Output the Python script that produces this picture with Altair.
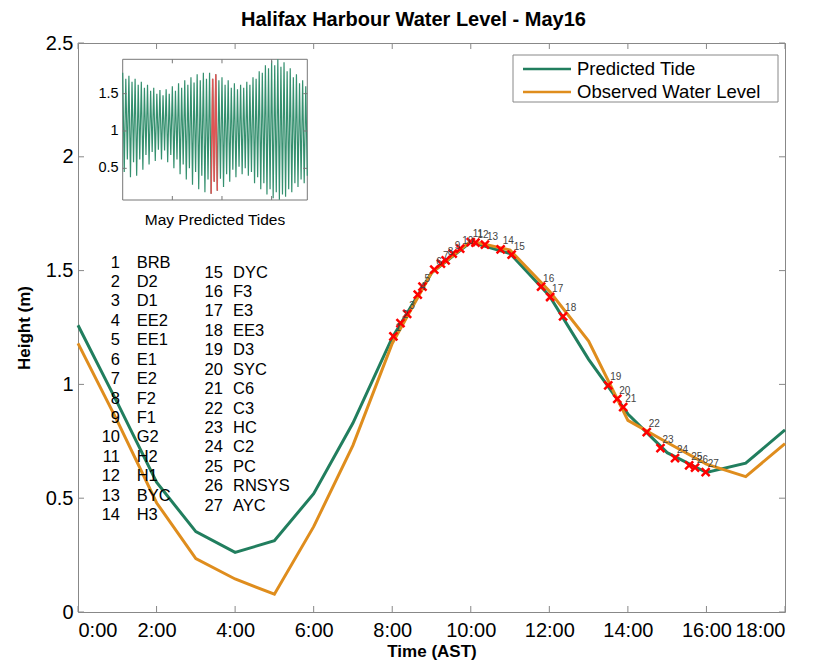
import altair as alt
import pandas as pd

FONT = "Liberation Sans"

# ---------------- data ----------------
hours = list(range(19))
predicted = [1.26, 0.92, 0.57, 0.353, 0.262, 0.313, 0.52, 0.83, 1.205, 1.49,
             1.625, 1.575, 1.39, 1.11, 0.87, 0.70, 0.613, 0.654, 0.80]
observed = [1.18, 0.84, 0.48, 0.235, 0.145, 0.078, 0.375, 0.732, 1.18, 1.49,
            1.63, 1.59, 1.41, 1.19, 0.842, 0.745, 0.65, 0.595, 0.74]

marker_time = [8.03, 8.21, 8.38, 8.65, 8.77, 9.07, 9.24, 9.36, 9.54, 9.73,
               10.0, 10.12, 10.36, 10.76, 11.04, 11.79, 12.02, 12.35, 13.50,
               13.73, 13.88, 14.48, 14.83, 15.20, 15.56, 15.71, 15.98]
marker_height = [1.211, 1.269, 1.310, 1.394, 1.430, 1.504, 1.531, 1.545, 1.575,
                 1.597, 1.625, 1.623, 1.614, 1.593, 1.570, 1.430, 1.384, 1.299,
                 0.996, 0.936, 0.900, 0.790, 0.720, 0.676, 0.644, 0.634, 0.615]

stations = ["BRB", "D2", "D1", "EE2", "EE1", "E1", "E2", "F2", "F1", "G2", "H2",
            "H1", "BYC", "H3", "DYC", "F3", "E3", "EE3", "D3", "SYC", "C6", "C3",
            "HC", "C2", "PC", "RNSYS", "AYC"]

x_ticks = [0, 2, 4, 6, 8, 10, 12, 14, 16, 18]
y_ticks = [0, 0.5, 1, 1.5, 2, 2.5]

legend_labels = ["Predicted Tide", "Observed Water Level"]
GREEN = "#217e5e"
ORANGE = "#df8d1d"
legend_colors = [GREEN, ORANGE]

# inset: successive high / low waters of the month
inset_high = [1.78, 1.70, 1.74, 1.66, 1.70, 1.62,
              1.66, 1.58, 1.62, 1.54, 1.58, 1.50, 1.55,
              1.48, 1.56, 1.50, 1.60, 1.54, 1.64, 1.58,
              1.68, 1.62, 1.72, 1.65, 1.76, 1.68, 1.78, 1.70,
              1.78, 1.70, 1.76, 1.68,
              1.72, 1.62, 1.68, 1.58, 1.64, 1.56, 1.62, 1.58, 1.66,
              1.62, 1.72, 1.70, 1.80, 1.78, 1.88, 1.84, 1.94, 1.88, 1.96,
              1.86, 1.92, 1.80, 1.84, 1.72, 1.76, 1.64, 1.68, 1.60]
inset_low = [0.45, 0.62, 0.38, 0.58, 0.40, 0.62,
             0.48, 0.68, 0.55, 0.72, 0.60, 0.75, 0.62,
             0.74, 0.58, 0.68, 0.50, 0.62, 0.42, 0.55,
             0.35, 0.50, 0.28, 0.45, 0.22, 0.40, 0.18, 0.35,
             0.16, 0.32, 0.20, 0.36,
             0.25, 0.42, 0.32, 0.48, 0.38, 0.52, 0.42, 0.50, 0.40,
             0.45, 0.30, 0.38, 0.22, 0.30, 0.15, 0.22, 0.10, 0.18, 0.08,
             0.15, 0.12, 0.22, 0.18, 0.30, 0.25, 0.35, 0.30, 0.40]
inset_red_range = [57, 61]          # May 16 extremes
inset_x_ticks = [32, 64, 96]
inset_y_ticks = [0.5, 1, 1.5]

# ---------------- frames ----------------
W, H = 707, 569
lines_df = pd.DataFrame({"hour": hours, "pred": predicted, "obs": observed})
mark_df = pd.DataFrame({"hour": marker_time, "height": marker_height,
                        "lab": [str(i + 1) for i in range(len(marker_time))]})
st_df = pd.DataFrame({"idx": list(range(1, len(stations) + 1)), "name": stations})
xt_df = pd.DataFrame({"hour": x_ticks})
yt_df = pd.DataFrame({"height": y_ticks})

seq = []
for h, l in zip(inset_high, inset_low):
    seq += [h, l]
inset_df = pd.DataFrame({"i": list(range(len(seq))), "v": seq})
ixt_df = pd.DataFrame({"i": inset_x_ticks})
iyt_df = pd.DataFrame({"v": inset_y_ticks, "lab": ["0.5", "1", "1.5"]})
one = pd.DataFrame({"a": [0]})

xs = alt.Scale(domain=[0, 18], nice=False, zero=False)
ys = alt.Scale(domain=[0, 2.5], nice=False)
xaxis = alt.Axis(values=x_ticks, labelExpr="datum.value + ':00'", title="Time (AST)",
                 grid=False, ticks=False, domain=False, labelFontSize=20,
                 labelPadding=8, titleFontSize=17, titlePadding=3, labelFont=FONT,
                 titleFont=FONT, labelColor="black", titleColor="black",
                 labelOverlap=False)
yaxis = alt.Axis(values=y_ticks, format="~g", title="Height (m)", grid=False,
                 ticks=False, domain=False, labelFontSize=20, labelPadding=5,
                 titleFontSize=17, titlePadding=12, labelFont=FONT, titleFont=FONT,
                 labelColor="black", titleColor="black", labelFlush=False,
                 labelOverlap=False)


def X(f):
    return alt.X(f, type="quantitative", scale=xs, axis=xaxis)


def Y(f):
    return alt.Y(f, type="quantitative", scale=ys, axis=yaxis)


base = alt.Chart(lines_df)
green = base.mark_line(color=GREEN, strokeWidth=3).encode(x=X("hour"), y=Y("pred"))
orange = base.mark_line(color=ORANGE, strokeWidth=3).encode(x=X("hour"), y=Y("obs"))

xmark = alt.Chart(mark_df).mark_point(
    shape="M-1,-1L1,1M-1,1L1,-1", filled=False, stroke="red", strokeWidth=2.5,
    size=64, opacity=1).encode(x=X("hour"), y=Y("height"))
xlab = alt.Chart(mark_df).mark_text(
    align="left", baseline="middle", dx=2, dy=-8, fontSize=10, color="#444",
    font=FONT).encode(x=X("hour"), y=Y("height"), text="lab")

st_base = alt.Chart(st_df).transform_calculate(
    col="datum.idx <= 14 ? 0 : 1").transform_calculate(
    row="datum.col == 0 ? datum.idx - 1 : datum.idx - 15").transform_calculate(
    yy="datum.col == 0 ? 1.535 - 0.0853 * datum.row : 1.491 - 0.0853 * datum.row",
    xn="datum.col == 0 ? 1.069 : 3.69",
    xname="datum.col == 0 ? 1.494 : 3.946",
    num="'' + datum.idx")
st_num = st_base.mark_text(align="right", baseline="middle", fontSize=16.5,
                           font=FONT, color="black").encode(
    x=X("xn"), y=Y("yy"), text="num:N")
st_name = st_base.mark_text(align="left", baseline="middle", fontSize=16.5,
                            font=FONT, color="black").encode(
    x=X("xname"), y=Y("yy"), text="name:N")

tick_col = "#888888"
xt_bot = alt.Chart(xt_df).mark_rule(color=tick_col).encode(
    x=X("hour"), y=alt.value(H), y2=alt.value(H - 6))
xt_top = alt.Chart(xt_df).mark_rule(color=tick_col).encode(
    x=X("hour"), y=alt.value(0), y2=alt.value(6))
yt_left = alt.Chart(yt_df).mark_rule(color=tick_col).encode(
    y=Y("height"), x=alt.value(0), x2=alt.value(6))
yt_right = alt.Chart(yt_df).mark_rule(color=tick_col).encode(
    y=Y("height"), x=alt.value(W), x2=alt.value(W - 6))

# legend (drawn by hand, MATLAB style)
leg_box = alt.Chart(one).mark_rect(fill="white", stroke="#888", strokeWidth=1).encode(
    x=alt.value(435), x2=alt.value(700), y=alt.value(12), y2=alt.value(59))
leg_layers = [leg_box]
for k, (lab, col) in enumerate(zip(legend_labels, legend_colors)):
    yv = 26 + 23 * k
    ldf = pd.DataFrame({"lab": [lab]})
    leg_layers.append(alt.Chart(ldf).mark_rule(color=col, strokeWidth=2.5).encode(
        x=alt.value(445), x2=alt.value(493), y=alt.value(yv)))
    leg_layers.append(alt.Chart(ldf).mark_text(
        align="left", baseline="middle", fontSize=18.5, font=FONT, color="black").encode(
        x=alt.value(499), y=alt.value(yv), text="lab:N"))

main = alt.layer(green, orange, st_num, st_name, xmark, xlab,
                 xt_bot, xt_top, yt_left, yt_right, *leg_layers)

# ---------------- inset ----------------
IL, IR, IT, IB = 44.7, 229.3, 16.3, 157
ixs = alt.Scale(domain=[0, len(seq) - 1], range=[IL, IR], nice=False, zero=False)
iys = alt.Scale(domain=[0.076, 1.96], range=[IB, IT], nice=False, zero=False)


def IX(f):
    return alt.X(f, type="quantitative", scale=ixs, axis=None)


def IY(f):
    return alt.Y(f, type="quantitative", scale=iys, axis=None)


frame = alt.Chart(one).mark_rect(fill="white", stroke="#777", strokeWidth=1).encode(
    x=alt.value(IL), x2=alt.value(IR), y=alt.value(IT), y2=alt.value(IB))
iline = alt.Chart(inset_df).mark_line(color="#35906f", strokeWidth=1.2).encode(
    x=IX("i"), y=IY("v"))
ired = alt.Chart(inset_df).transform_filter(
    f"datum.i >= {inset_red_range[0]} && datum.i <= {inset_red_range[1]}").mark_line(
    color="#e05555", strokeWidth=1.5).encode(x=IX("i"), y=IY("v"))
ixt_b = alt.Chart(ixt_df).mark_rule(color="#777").encode(
    x=IX("i"), y=alt.value(IB), y2=alt.value(IB - 4))
ixt_t = alt.Chart(ixt_df).mark_rule(color="#777").encode(
    x=IX("i"), y=alt.value(IT), y2=alt.value(IT + 4))
iyt_l = alt.Chart(iyt_df).mark_rule(color="#777").encode(
    y=IY("v"), x=alt.value(IL), x2=alt.value(IL + 4))
iyt_r = alt.Chart(iyt_df).mark_rule(color="#777").encode(
    y=IY("v"), x=alt.value(IR), x2=alt.value(IR - 4))
iylab = alt.Chart(iyt_df).mark_text(align="right", baseline="middle", fontSize=14.5,
                                    font=FONT, color="black").encode(
    y=IY("v"), x=alt.value(IL - 4), text="lab:N")
caption = alt.Chart(pd.DataFrame({"t": ["May Predicted Tides"]})).mark_text(
    align="center", baseline="middle", fontSize=15.5, font=FONT, color="black").encode(
    x=alt.value((IL + IR) / 2), y=alt.value(IB + 20), text="t:N")

inset = alt.layer(frame, iline, ired, ixt_b, ixt_t, iyt_l, iyt_r, iylab, caption)

chart = alt.layer(main, inset).resolve_scale(x="independent", y="independent").properties(
    width=W, height=H,
    title=alt.TitleParams("Halifax Harbour Water Level - May16", fontSize=20,
                          fontWeight="bold", font=FONT, anchor="middle", offset=3,
                          dx=-18, color="black"),
    autosize=alt.AutoSizeParams(type="none"),
    padding={"left": 78, "top": 43, "right": 32, "bottom": 53},
    background="white",
).configure_view(stroke="#888888", strokeWidth=1)

chart.save("out.html", embed_options={"renderer": "svg", "actions": False})
